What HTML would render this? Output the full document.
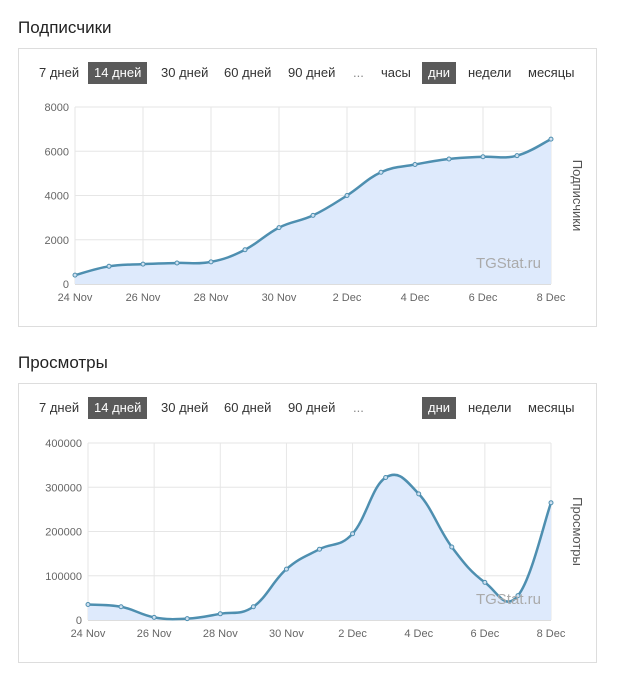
<!DOCTYPE html>
<html><head><meta charset="utf-8">
<style>
body{margin:0;width:620px;height:682px;background:#fff;font-family:"Liberation Sans",Arial,sans-serif;overflow:hidden;position:relative}
.title{position:absolute;left:18px;font-size:17px;color:#222}
.panel{position:absolute;left:18px;width:579px;border:1px solid #ddd;box-sizing:border-box;background:#fff}
.btn{position:absolute;font-size:13px;color:#333;padding:3px 6px;line-height:16px}
.btn.on{background:#5a5a5a;color:#fff}
svg{position:absolute;left:0;top:0}
</style></head><body>
<div class="title" style="top:18px">Подписчики</div>
<div class="panel" style="top:48px;height:279px">
 <span class="btn" style="left:14px;top:13px">7 дней</span>
 <span class="btn on" style="left:69px;top:13px">14 дней</span>
 <span class="btn" style="left:136px;top:13px">30 дней</span>
 <span class="btn" style="left:199px;top:13px">60 дней</span>
 <span class="btn" style="left:263px;top:13px">90 дней</span>
 <span class="btn" style="left:328px;top:13px;color:#888">...</span>
 <span class="btn" style="left:356px;top:13px">часы</span>
 <span class="btn on" style="left:403px;top:13px">дни</span>
 <span class="btn" style="left:443px;top:13px">недели</span>
 <span class="btn" style="left:503px;top:13px">месяцы</span>
</div>
<div class="title" style="top:353px">Просмотры</div>
<div class="panel" style="top:383px;height:280px">
 <span class="btn" style="left:14px;top:13px">7 дней</span>
 <span class="btn on" style="left:69px;top:13px">14 дней</span>
 <span class="btn" style="left:136px;top:13px">30 дней</span>
 <span class="btn" style="left:199px;top:13px">60 дней</span>
 <span class="btn" style="left:263px;top:13px">90 дней</span>
 <span class="btn" style="left:328px;top:13px;color:#888">...</span>
 <span class="btn on" style="left:403px;top:13px">дни</span>
 <span class="btn" style="left:443px;top:13px">недели</span>
 <span class="btn" style="left:503px;top:13px">месяцы</span>
</div>
<svg id="chart" width="620" height="682"></svg>
<script>
const categories=["24 Nov","25 Nov","26 Nov","27 Nov","28 Nov","29 Nov","30 Nov","1 Dec","2 Dec","3 Dec","4 Dec","5 Dec","6 Dec","7 Dec","8 Dec"];
const subscribers=[400,800,900,950,1000,1550,2550,3100,4000,5050,5400,5650,5750,5800,6550];
const views=[35000,30000,6000,3000,14000,30000,115000,160000,195000,322000,285000,165000,85000,55000,265000];
const subTicks=[0,2000,4000,6000,8000];
const viewTicks=[0,100000,200000,300000,400000];
const NS="http://www.w3.org/2000/svg";
const svg=document.getElementById('chart');
function mk(tag,attrs,parent){const e=document.createElementNS(NS,tag);for(const k in attrs)e.setAttribute(k,attrs[k]);(parent||svg).appendChild(e);return e;}
function draw(cfg){
 const {x0,x1,y0,y1,max,vals,ticks,label,name}=cfg;
 const g=mk('g',{});
 
 
 const xs=i=>x0+(x1-x0)*i/(categories.length-1);
 const ys=v=>y0-(y0-y1)*v/max;
 ticks.forEach(t=>{
  const l=mk('line',{x1:x0,x2:x1,y1:ys(t),y2:ys(t),stroke:t===0?'#bbb':'#e6e6e6'},g);
  
  const tx=mk('text',{x:x0-6,y:ys(t)+4,'text-anchor':'end','font-size':'11',fill:'#666'},g);tx.textContent=t;
  
 });
 categories.forEach((c,i)=>{
  if(i%2)return;
  const l=mk('line',{x1:xs(i),x2:xs(i),y1:y1,y2:y0,stroke:'#e6e6e6'},g);
  
  const tx=mk('text',{x:xs(i),y:y0+17,'text-anchor':'middle','font-size':'11',fill:'#666'},g);tx.textContent=c;
  
 });
 const p=vals.map((v,i)=>[xs(i),ys(v)]);
 let d='M'+p[0][0]+','+p[0][1];
 for(let i=0;i<p.length-1;i++){
  const a=p[i-1]||p[i],b=p[i],c=p[i+1],e=p[i+2]||c,t=0.2;
  d+=` C${b[0]+(c[0]-a[0])*t},${b[1]+(c[1]-a[1])*t} ${c[0]-(e[0]-b[0])*t},${c[1]-(e[1]-b[1])*t} ${c[0]},${c[1]}`;
 }
 const area=mk('path',{d:d+` L${x1},${y0} L${x0},${y0} Z`,fill:'#deeafc'},g);
 
 const ln=mk('path',{d:d,fill:'none',stroke:'#4e8fb0','stroke-width':'2.5'},g);
 
 p.forEach(q=>{const c=mk('circle',{cx:q[0],cy:q[1],r:2,fill:'#cfe0f0',stroke:'#4e8fb0','stroke-width':'1'},g);
  });
 const wm=mk('text',{x:x1-10,y:y0-16,'text-anchor':'end','font-size':'15',fill:'#aaa'},g);wm.textContent='TGStat.ru';
 
 const cy=(y0+y1)/2;
 const yt=mk('text',{x:x1+22,y:cy,'text-anchor':'middle','font-size':'13',fill:'#555',transform:`rotate(90 ${x1+22} ${cy})`},g);yt.textContent=label;
 
}
draw({x0:75,x1:551,y0:284,y1:107,max:8000,vals:subscribers,ticks:subTicks,label:'Подписчики',name:'subscribers'});
draw({x0:88,x1:551,y0:620,y1:443,max:400000,vals:views,ticks:viewTicks,label:'Просмотры',name:'views'});
</script>
</body></html>
